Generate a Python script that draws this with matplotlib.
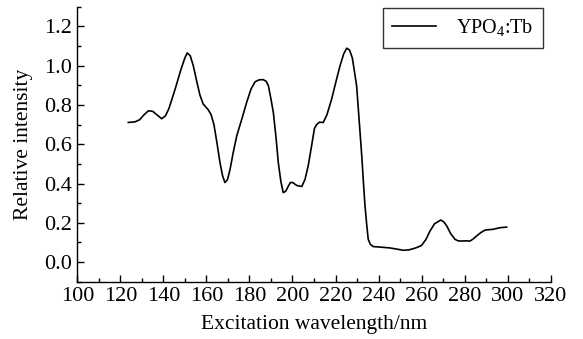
import matplotlib
matplotlib.use("Agg")
import matplotlib.pyplot as plt
from matplotlib.ticker import MultipleLocator, FormatStrFormatter

plt.rcParams["font.family"] = ["Liberation Serif", "DejaVu Serif"]
plt.rcParams["mathtext.fontset"] = "custom"
plt.rcParams["mathtext.rm"] = "Liberation Serif"

# 激发光谱读数 (nm, 相对强度)
wavelength = [123.7, 126.8, 129.0, 131.0, 133.0, 135.0, 137.0, 139.2, 141.0, 142.5,
              144.0, 146.0, 148.0, 150.0, 151.1, 152.5, 153.9, 155.5, 157.0, 158.5,
              160.9, 162.2, 163.5, 165.0, 166.3, 167.5, 168.6, 169.8, 171.0, 172.5,
              174.1, 176.5, 178.7, 180.7, 182.6, 184.5, 186.4, 187.8, 188.8, 190.0,
              191.1, 192.3, 193.4, 194.6, 195.7, 196.8, 198.0, 199.0, 200.1, 202.0,
              204.3, 205.8, 207.3, 209.0, 210.2, 211.2, 212.5, 214.3, 216.0, 218.2,
              220.0, 222.1, 223.8, 225.2, 226.5, 227.8, 228.8, 229.8, 231.0, 232.2,
              233.0, 233.7, 234.5, 235.2, 236.2, 237.5, 241.0, 245.3, 248.5, 251.5,
              254.0, 256.1, 258.0, 260.0, 262.0, 263.9, 266.0, 268.9, 270.3, 271.7,
              273.5, 275.5, 277.0, 278.6, 280.5, 282.5, 284.0, 285.6, 287.5, 289.5,
              293.3, 296.4, 299.5]
intensity = [0.711, 0.714, 0.725, 0.750, 0.770, 0.768, 0.750, 0.730, 0.745, 0.780,
             0.830, 0.900, 0.975, 1.040, 1.065, 1.050, 1.000, 0.920, 0.850, 0.805,
             0.775, 0.750, 0.700, 0.600, 0.507, 0.440, 0.405, 0.420, 0.473, 0.560,
             0.643, 0.730, 0.813, 0.880, 0.918, 0.928, 0.929, 0.920, 0.898, 0.830,
             0.762, 0.640, 0.507, 0.410, 0.354, 0.360, 0.385, 0.405, 0.405, 0.390,
             0.385, 0.420, 0.490, 0.600, 0.680, 0.700, 0.712, 0.711, 0.750, 0.830,
             0.910, 1.000, 1.060, 1.089, 1.080, 1.040, 0.970, 0.898, 0.720, 0.540,
             0.400, 0.286, 0.190, 0.116, 0.090, 0.079, 0.076, 0.072, 0.066, 0.060,
             0.062, 0.068, 0.075, 0.085, 0.115, 0.158, 0.195, 0.214, 0.205, 0.184,
             0.145, 0.116, 0.108, 0.107, 0.108, 0.107, 0.118, 0.133, 0.150, 0.163,
             0.167, 0.175, 0.178]

fig = plt.figure(figsize=(5.83, 3.39), dpi=100)
ax = fig.add_axes([0.1326, 0.169, 0.812, 0.811])

ax.plot(wavelength, intensity, color="black", linewidth=1.2,
        solid_joinstyle="round", label="YPO$_4$:Tb")

ax.set_xlim(100, 320)
ax.set_ylim(-0.1, 1.3)
ax.xaxis.set_major_locator(MultipleLocator(20))
ax.xaxis.set_minor_locator(MultipleLocator(10))
ax.set_yticks([0.0, 0.2, 0.4, 0.6, 0.8, 1.0, 1.2])
ax.yaxis.set_minor_locator(MultipleLocator(0.1))
ax.yaxis.set_major_formatter(FormatStrFormatter("%.1f"))

for side in ["top", "right"]:
    ax.spines[side].set_visible(False)
for side in ["left", "bottom"]:
    ax.spines[side].set_linewidth(1.0)

ax.tick_params(which="major", direction="in", length=5, width=1.0, labelsize=16, pad=4)
ax.tick_params(which="minor", direction="in", length=3, width=1.0)

ax.set_xlabel("Excitation wavelength/nm", fontsize=15.5, labelpad=6)
ax.set_ylabel("Relative intensity", fontsize=15.5, labelpad=8)

leg = ax.legend(loc="upper right", bbox_to_anchor=(0.983, 0.994), fontsize=14.5,
                frameon=True, fancybox=False, handlelength=2.2, borderpad=0.45,
                handletextpad=1.0, borderaxespad=0)
leg.get_frame().set_edgecolor("black")
leg.get_frame().set_linewidth(1.0)

fig.savefig("out.png", dpi=100)
